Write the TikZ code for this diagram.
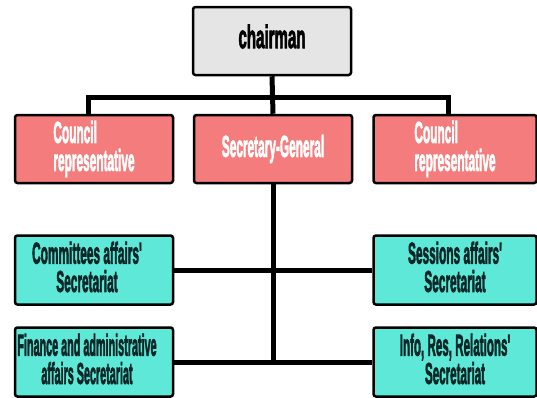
\documentclass[tikz,border=0pt]{standalone}
\usepackage{graphicx}
\usepackage{fontspec}
\usetikzlibrary{backgrounds}
\newfontfamily\boxfont{Liberation Sans}[BoldFeatures={FakeBold=3}]
\newcommand{\cond}[3][c]{\scalebox{#2}[1.12]{\begin{tabular}{@{}#1@{}}#3\end{tabular}}}
\definecolor{chairgray}{HTML}{E5E5E5}
\definecolor{redbox}{HTML}{F47C7C}
\definecolor{cyanbox}{HTML}{5EE8D8}
\definecolor{darktext}{HTML}{0B2626}
\begin{document}
\begin{tikzpicture}[x=1pt,y=-1pt,
    box/.style={draw=black, line width=2.5pt, rounded corners=2.5pt, minimum width=158pt, minimum height=68pt, inner sep=2pt, align=center},
    headbox/.style={box, fill=chairgray, font=\boxfont\bfseries\fontsize{29}{28}\selectfont, text=black},
    rednode/.style={box, fill=redbox, font=\boxfont\bfseries\fontsize{27}{18}\selectfont, text=white},
    cyannode/.style={box, fill=cyanbox, minimum height=69pt, font=\boxfont\bfseries\fontsize{27}{19}\selectfont, text=darktext},
    wide/.style={minimum width=163pt},
    conn/.style={draw=black, line width=5pt}]
    \clip (0,0) rectangle (537,397);

%nodes
    \node[headbox] (chair) at (272,41) {\cond{0.52}{chairman}};

    \node[rednode] (lcouncil) at (94,149) {\cond[l]{0.44}{Council\\representative}};
    \node[rednode] (secgen) at (273,149) {\cond{0.44}{Secretary-General}};
    \node[rednode, wide] (rcouncil) at (455,149) {\cond[l]{0.44}{Council\\representative}};

    \node[cyannode] (committees) at (94,270) {\cond{0.44}{Committees affairs'\\Secretariat}\hspace*{14pt}};
    \node[cyannode, wide] (sessions) at (455,270) {\cond{0.44}{Sessions affairs'\\Secretariat}};
    \node[cyannode] (finance) at (94,362) {\cond{0.40}{Finance and administrative\\affairs Secretariat}\hspace*{14pt}};
    \node[cyannode, wide] (info) at (455,362) {\cond{0.43}{Info, Res, Relations'\\Secretariat}};

    \begin{pgfonlayer}{background}
    \fill[white] (0,0) rectangle (537,397);
%chairman
    \draw[conn] (chair.south) -- (secgen.north);
    \draw[conn] ([xshift=-6pt]lcouncil.north) |- (chair.south |- 0,97) -| ([xshift=-7pt]rcouncil.north);

%secretary-general
    \draw[conn] (secgen.south) -- (secgen.south |- finance.east);
    \draw[conn] (committees.east) -- (sessions.west);
    \draw[conn] (finance.east) -- (info.west);
    \end{pgfonlayer}
\end{tikzpicture}
\end{document}
